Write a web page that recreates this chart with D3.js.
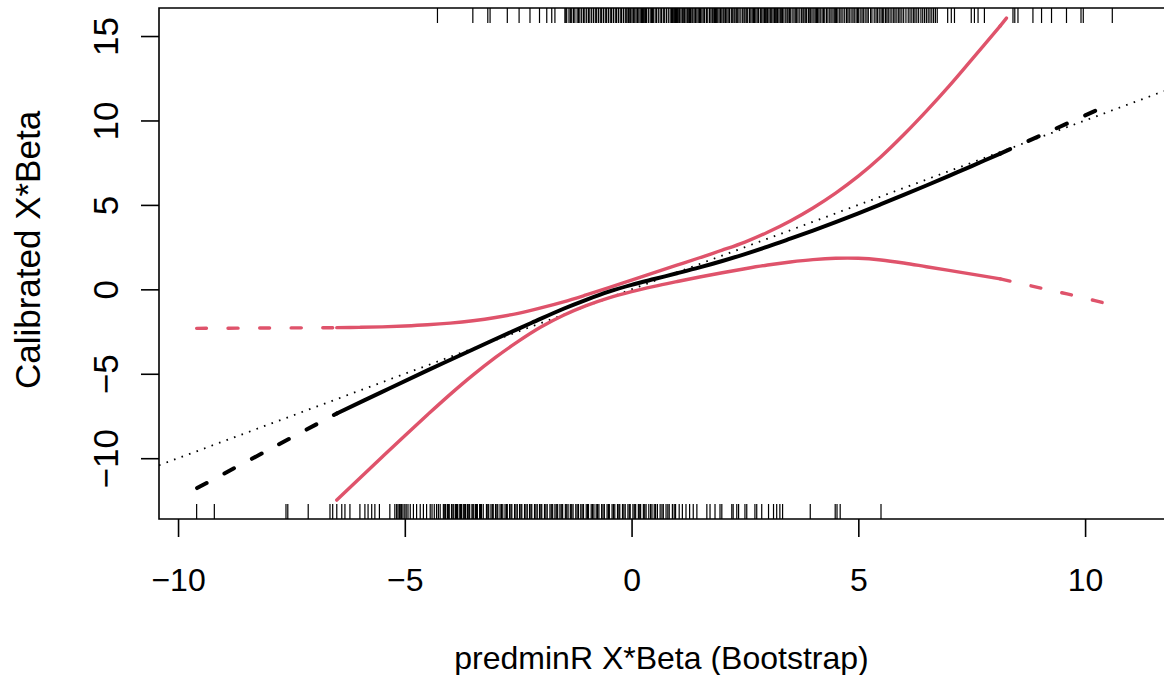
<!DOCTYPE html>
<html>
<head>
<meta charset="utf-8">
<script src="https://cdn.jsdelivr.net/npm/d3@7"></script>
<style>
  body { margin: 0; background: #fff; }
  svg { display: block; font-family: "Liberation Sans", Arial, Helvetica, sans-serif; }
</style>
</head>
<body>
<svg width="1164" height="675"></svg>
<script>
// tick values
var xTicks = [-10, -5, 0, 5, 10];
var yTicks = [-10, -5, 0, 5, 10, 15];

// solid part of the curves lies between these x values, tails are dashed
var solidFrom = -6.5, solidTo = 8.13;

// calibrated curve (black)
var calibrated = [[-9.58,-11.77],[-8.0,-9.5],[-6.5,-7.35],[-5.5,-6.07],[-4.5,-4.8],[-3.5,-3.56],[-2.9,-2.82],
  [-2.2,-1.98],[-1.5,-1.15],[-1.0,-0.62],[-0.5,-0.14],[0,0.26],[0.5,0.61],[1.0,0.95],[1.5,1.3],[2.0,1.68],
  [2.5,2.09],[3.0,2.53],[3.5,3.0],[4.0,3.48],[4.5,3.98],[5.0,4.5],[5.5,5.04],[6.0,5.59],[6.5,6.15],
  [7.0,6.72],[7.5,7.3],[8.13,8.04],[9.3,9.45],[10.51,10.92]];

// confidence bands (red)
var upperBand = [[-9.59,-2.31],[-8.0,-2.29],[-6.5,-2.27],[-6.0,-2.25],[-5.5,-2.22],[-5.0,-2.17],[-4.5,-2.1],
  [-4.0,-2.0],[-3.5,-1.86],[-3.0,-1.67],[-2.5,-1.42],[-2.0,-1.1],[-1.5,-0.74],[-1.0,-0.33],[-0.5,0.1],
  [0,0.55],[0.5,0.99],[1.0,1.43],[1.5,1.87],[2.0,2.32],[2.5,2.8],[3.0,3.38],[3.5,4.05],[4.0,4.82],
  [4.5,5.7],[5.0,6.7],[5.5,7.85],[6.0,9.15],[6.5,10.55],[7.0,12.03],[7.5,13.6],[8.13,15.6],[8.6,17.2],
  [9.5,20.4],[10.6,24.6]];
var lowerBand = [[-6.5,-12.48],[-6.0,-11.2],[-5.5,-9.93],[-5.0,-8.67],[-4.5,-7.43],[-4.0,-6.22],[-3.5,-5.08],
  [-3.0,-4.03],[-2.5,-3.08],[-2.0,-2.23],[-1.5,-1.53],[-1.0,-0.96],[-0.5,-0.5],[0,-0.13],[0.5,0.18],
  [1.0,0.46],[1.5,0.73],[2.0,0.98],[2.5,1.22],[3.0,1.44],[3.5,1.62],[4.0,1.76],[4.5,1.84],[5.0,1.84],
  [5.5,1.74],[6.0,1.56],[6.5,1.34],[7.0,1.12],[7.5,0.9],[8.13,0.62],[9.15,0.0],[9.89,-0.45],[10.68,-0.99]];

// rug of predictions, top = events, bottom = non-events
var rugTop = [-4.28,-3.5,-3.17,-3.12,-2.74,-2.48,-2.24,-2.03,-1.87,-1.76,-1.69,
  -1.47,-1.45,-1.43,-1.38,-1.35,-1.32,-1.28,-1.25,-1.2,-1.17,-1.14,-1.1,-1.06,-1.03,-0.99,-0.95,-0.92,
  -0.88,-0.84,-0.8,-0.77,-0.73,-0.69,-0.66,-0.62,-0.58,-0.55,-0.51,-0.47,-0.44,-0.4,-0.36,-0.33,-0.29,
  -0.25,-0.22,-0.18,-0.14,-0.12,-0.1,-0.07,-0.04,-0.02,0.01,0.04,0.07,0.1,0.13,0.16,0.19,0.22,0.24,
  0.26,0.29,0.31,0.33,0.37,0.41,0.44,0.46,0.48,0.52,0.55,0.59,0.63,0.66,0.7,0.73,0.77,0.81,0.85,0.88,
  0.9,0.92,0.95,0.97,0.99,1.01,1.04,1.06,1.09,1.12,1.15,1.17,1.2,1.23,1.26,1.28,1.3,1.33,1.35,1.38,
  1.41,1.44,1.47,1.5,1.52,1.55,1.58,1.61,1.65,1.68,1.72,1.75,1.78,1.8,1.83,1.85,1.87,1.9,1.93,1.96,
  1.99,2.02,2.04,2.07,2.1,2.13,2.16,2.2,2.23,2.26,2.28,2.31,2.34,2.37,2.41,2.45,2.48,2.5,2.53,2.56,
  2.6,2.63,2.66,2.69,2.71,2.74,2.77,2.8,2.84,2.87,2.9,2.93,2.95,2.98,3.0,3.03,3.06,3.09,3.12,3.15,
  3.17,3.2,3.22,3.25,3.28,3.31,3.33,3.36,3.4,3.43,3.45,3.48,3.5,3.54,3.58,3.61,3.64,3.67,3.71,3.75,
  3.78,3.8,3.83,3.86,3.9,3.93,3.95,3.98,4.02,4.05,4.08,4.1,4.13,4.16,4.2,4.23,4.26,4.3,4.33,4.37,4.4,
  4.44,4.47,4.5,4.52,4.55,4.59,4.62,4.66,4.7,4.74,4.77,4.8,4.84,4.88,4.91,4.95,4.98,5.0,5.04,5.08,
  5.11,5.15,5.19,5.22,5.27,5.3,5.35,5.39,5.42,5.46,5.5,5.53,5.56,5.6,5.63,5.66,5.7,5.74,5.78,5.81,
  5.85,5.89,5.92,5.96,6.0,6.05,6.1,6.14,6.18,6.22,6.25,6.29,6.33,6.38,6.42,6.46,6.5,6.54,6.58,6.62,
  6.66,6.7,6.74,6.97,7.05,7.12,7.49,7.56,7.64,7.78,8.41,8.45,8.52,8.85,9.04,9.26,9.59,9.91,9.96,10.6];
var rugBottom = [-9.59,-9.2,-7.62,-7.58,-7.13,-6.65,-6.59,-6.5,-6.39,-6.32,-6.21,-5.99,-5.88,-5.81,-5.73,
  -5.66,-5.56,-5.33,-5.22,-5.18,-5.15,-5.12,-5.1,-5.07,-5.04,-5.0,-4.97,-4.93,-4.88,-4.81,-4.74,-4.66,
  -4.59,-4.52,-4.44,-4.4,-4.35,-4.3,-4.26,-4.22,-4.15,-4.12,-4.1,-4.06,-4.04,-4.02,-3.97,-3.94,-3.92,
  -3.88,-3.86,-3.84,-3.8,-3.77,-3.75,-3.71,-3.68,-3.66,-3.62,-3.59,-3.57,-3.52,-3.5,-3.48,-3.44,-3.42,
  -3.4,-3.35,-3.33,-3.31,-3.27,-3.2,-3.17,-3.15,-3.1,-3.07,-3.05,-3.0,-2.97,-2.95,-2.9,-2.87,-2.84,
  -2.79,-2.76,-2.74,-2.69,-2.66,-2.64,-2.58,-2.55,-2.52,-2.47,-2.44,-2.42,-2.36,-2.33,-2.3,-2.25,-2.22,
  -2.2,-2.14,-2.11,-2.08,-2.03,-2.0,-1.98,-1.92,-1.89,-1.86,-1.8,-1.77,-1.74,-1.69,-1.66,-1.63,-1.58,
  -1.55,-1.52,-1.46,-1.43,-1.4,-1.35,-1.32,-1.29,-1.23,-1.2,-1.17,-1.12,-1.09,-1.06,-1.0,-0.97,-0.95,
  -0.89,-0.86,-0.83,-0.78,-0.75,-0.72,-0.66,-0.63,-0.6,-0.54,-0.51,-0.49,-0.43,-0.4,-0.37,-0.31,-0.28,
  -0.26,-0.2,-0.17,-0.14,-0.08,-0.05,-0.03,0.03,0.06,0.09,0.15,0.18,0.2,0.26,0.29,0.32,0.38,0.42,0.45,
  0.5,0.53,0.57,0.63,0.67,0.7,0.76,0.8,0.83,0.9,0.94,0.97,1.05,1.12,1.2,1.28,1.36,1.44,1.66,1.73,1.84,
  1.95,1.99,2.21,2.24,2.32,2.36,2.5,2.54,2.72,2.76,2.87,3.02,3.13,3.2,3.27,3.33,3.94,4.49,4.53,4.6,5.5];

var red = "#DF536B";
var svg = d3.select("svg");
var plot = {left: 159, top: 8, right: 1164, bottom: 519};

var x = d3.scaleLinear().domain([-10.42, 11.74]).range([plot.left, plot.right]);
var y = d3.scaleLinear().domain([-13.6, 16.66]).range([plot.bottom, plot.top]);
var minus = function(d) { return d < 0 ? "\u2212" + Math.abs(d) : String(d); };

svg.append("clipPath").attr("id", "clip")
  .append("rect")
  .attr("x", plot.left).attr("y", plot.top)
  .attr("width", plot.right - plot.left).attr("height", plot.bottom - plot.top);

var g = svg.append("g").attr("clip-path", "url(#clip)");

// identity line
var ident = x.domain();
g.append("line")
  .attr("x1", x(ident[0])).attr("y1", y(ident[0]))
  .attr("x2", x(ident[1])).attr("y2", y(ident[1]))
  .attr("stroke", "#000").attr("stroke-width", 1.8)
  .attr("stroke-dasharray", "1.6,6.4");

// rugs
var rugLen = 15;
g.selectAll(".rugTop").data(rugTop).enter().append("line")
  .attr("x1", function(d) { return x(d); }).attr("x2", function(d) { return x(d); })
  .attr("y1", plot.top).attr("y2", plot.top + rugLen)
  .attr("stroke", "#000").attr("stroke-width", 1.2);
g.selectAll(".rugBottom").data(rugBottom).enter().append("line")
  .attr("x1", function(d) { return x(d); }).attr("x2", function(d) { return x(d); })
  .attr("y1", plot.bottom - rugLen).attr("y2", plot.bottom)
  .attr("stroke", "#000").attr("stroke-width", 1.2);

var line = d3.line()
  .x(function(d) { return x(d[0]); })
  .y(function(d) { return y(d[1]); })
  .curve(d3.curveCatmullRom.alpha(0.5));

function drawCurve(data, colour, width, dash) {
  var parts = [
    {pts: data.filter(function(d) { return d[0] <= solidFrom; }), dashed: true},
    {pts: data.filter(function(d) { return d[0] >= solidFrom && d[0] <= solidTo; }), dashed: false},
    {pts: data.filter(function(d) { return d[0] >= solidTo; }), dashed: true}
  ];
  parts.forEach(function(p) {
    if (p.pts.length < 2) return;
    g.append("path")
      .attr("d", line(p.pts))
      .attr("fill", "none")
      .attr("stroke", colour)
      .attr("stroke-width", width)
      .attr("stroke-linecap", "round")
      .attr("stroke-linejoin", "round")
      .attr("stroke-dasharray", p.dashed ? dash : null);
  });
}

drawCurve(upperBand, red, 3.4, "10,21.5");
drawCurve(lowerBand, red, 3.4, "10,21.5");
drawCurve(calibrated, "#000", 4.0, "11,20");

// box
svg.append("path")
  .attr("d", "M" + plot.right + "," + plot.top + "H" + plot.left + "V" + plot.bottom + "H" + plot.right)
  .attr("fill", "none").attr("stroke", "#000").attr("stroke-width", 1.6);

// axes
var xAxis = svg.append("g")
  .attr("transform", "translate(0," + plot.bottom + ")")
  .call(d3.axisBottom(x).tickValues(xTicks).tickSize(18).tickPadding(31).tickFormat(minus));
xAxis.select(".domain").remove();
xAxis.selectAll("line").attr("stroke-width", 1.6);
xAxis.selectAll("text").attr("font-size", 32).attr("font-family", null).attr("fill", "#000");

var yAxis = svg.append("g")
  .attr("transform", "translate(" + plot.left + ",0)")
  .call(d3.axisLeft(y).tickValues(yTicks).tickSize(18).tickFormat(minus));
yAxis.select(".domain").remove();
yAxis.selectAll("line").attr("stroke-width", 1.6);
yAxis.selectAll("text")
  .attr("x", null).attr("dy", "0.36em")
  .attr("transform", "translate(-54,0) rotate(-90)")
  .attr("text-anchor", "middle")
  .attr("font-size", 35).attr("font-family", null).attr("fill", "#000");

// titles
svg.append("text")
  .attr("x", (plot.left + plot.right) / 2).attr("y", 657).attr("dy", "0.36em")
  .attr("text-anchor", "middle").attr("font-size", 32)
  .text("predminR X*Beta (Bootstrap)");
svg.append("text")
  .attr("transform", "translate(27,250) rotate(-90)")
  .attr("dy", "0.36em")
  .attr("text-anchor", "middle").attr("font-size", 35)
  .text("Calibrated X*Beta");
</script>
</body>
</html>
